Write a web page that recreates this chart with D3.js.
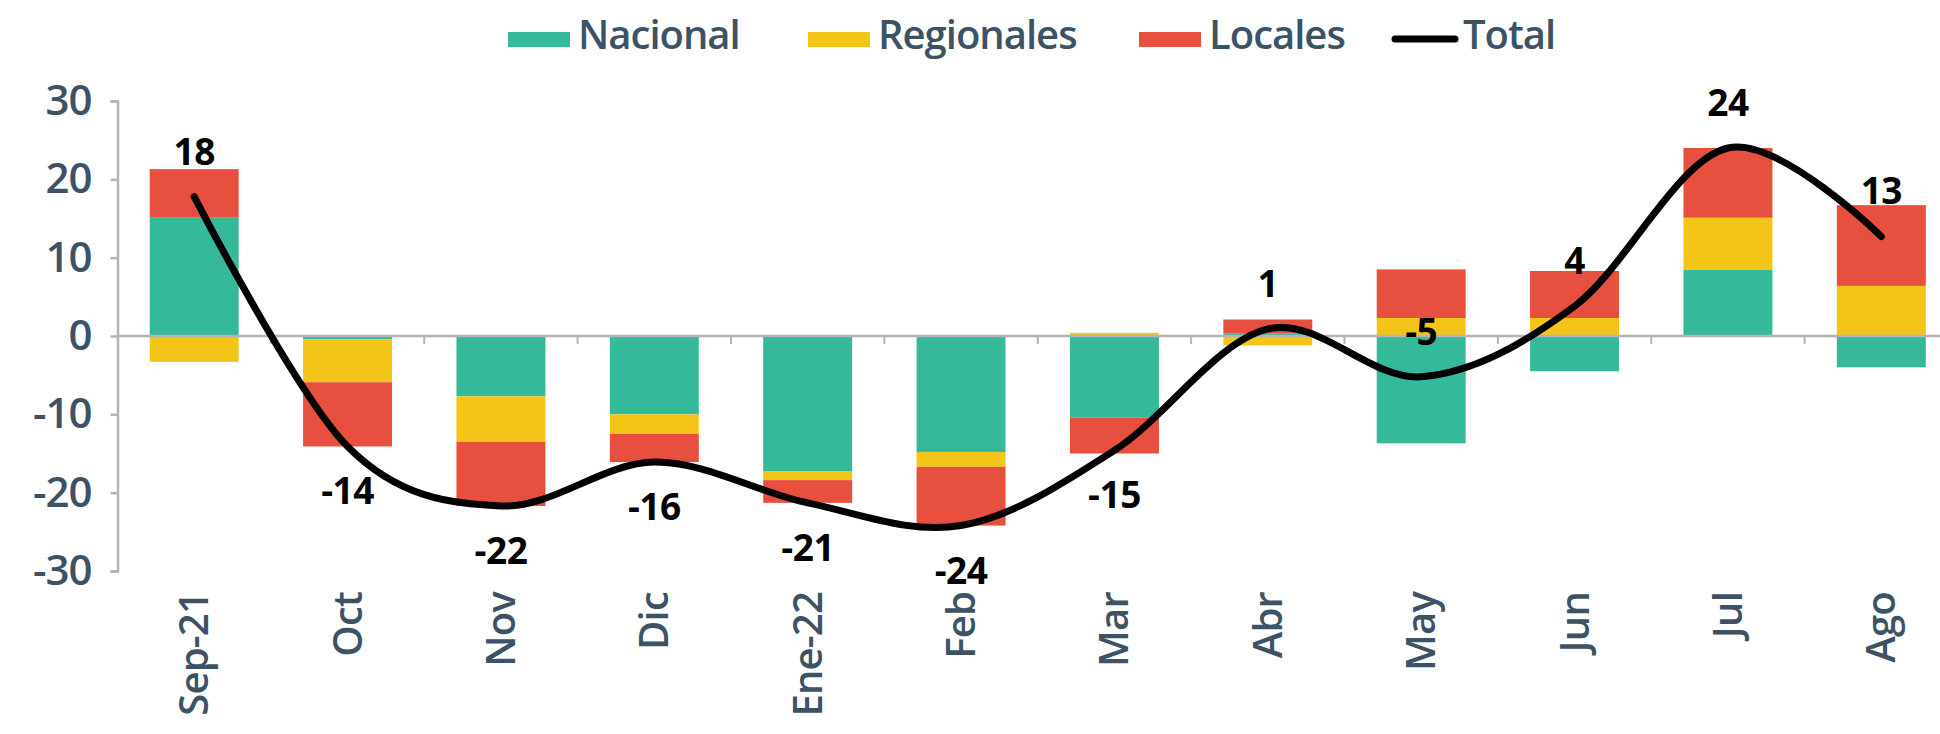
<!DOCTYPE html>
<html>
<head>
<meta charset="utf-8">
<script src="https://cdn.jsdelivr.net/npm/d3@7"></script>
<style>
  body { margin: 0; background: #fff; }
  svg { display: block; font-family: "Open Sans", sans-serif; }
</style>
</head>
<body>
<div id="chart"></div>
<script>
// Data
const months = ["Sep-21", "Oct", "Nov", "Dic", "Ene-22", "Feb", "Mar", "Abr", "May", "Jun", "Jul", "Ago"];
const nacional   = [15.1, -0.4, -7.7, -10.0, -17.3, -14.8, -10.4, 0.3, -13.7, -4.5, 8.5, -4.0];
const regionales = [-3.3, -5.5, -5.8, -2.5, -1.1, -1.9, 0.4, -1.2, 2.3, 2.3, 6.6, 6.4];
const locales    = [6.2, -8.2, -8.2, -3.6, -2.9, -7.5, -4.6, 1.8, 6.2, 6.0, 8.9, 10.3];
const total      = [17.8, -14.1, -21.7, -16.1, -21.3, -24.2, -14.6, 0.9, -5.2, 3.8, 24.0, 12.7];
const seriesNames = ["Nacional", "Regionales", "Locales"];
const yTicks = [-30, -20, -10, 0, 10, 20, 30];

const colors = {Nacional: "#36b99a", Regionales: "#f2c518", Locales: "#e74f3f"};
const textColor = "#3e5266";
const axisColor = "#b4b4b4";
// label side for the total values (Excel placed them by hand)
const labelAbove = [true, false, false, false, false, false, false, true, true, true, true, true];

const width = 1940, height = 734;
const svg = d3.select("#chart").append("svg")
  .attr("width", width)
  .attr("height", height);

const x = d3.scaleBand()
  .domain(months)
  .range([117.5, 1958])
  .paddingInner(0.42)
  .paddingOuter(0.21);
const y = d3.scaleLinear()
  .domain([-30, 30])
  .range([571, 101]);

const rows = months.map((m, i) => ({
  month: m, Nacional: nacional[i], Regionales: regionales[i], Locales: locales[i]
}));
const stacked = d3.stack()
  .keys(seriesNames)
  .offset(d3.stackOffsetDiverging)(rows);

// Bars
svg.append("g").selectAll("g")
  .data(stacked)
  .enter().append("g")
  .attr("fill", d => colors[d.key])
  .selectAll("rect")
  .data(d => d)
  .enter().append("rect")
  .attr("x", d => x(d.data.month))
  .attr("width", x.bandwidth())
  .attr("y", d => y(Math.max(d[0], d[1])))
  .attr("height", d => Math.abs(y(d[0]) - y(d[1])));

// Zero line with category ticks
const y0 = y(0);
svg.append("line")
  .attr("x1", x.range()[0]).attr("x2", width)
  .attr("y1", y0).attr("y2", y0)
  .attr("stroke", axisColor).attr("stroke-width", 2.5);
svg.append("g").selectAll("line")
  .data(months.slice(1))
  .enter().append("line")
  .attr("x1", d => x(d) - (x.step() - x.bandwidth()) / 2)
  .attr("x2", d => x(d) - (x.step() - x.bandwidth()) / 2)
  .attr("y1", y0).attr("y2", y0 + 8)
  .attr("stroke", axisColor).attr("stroke-width", 2);

// Y axis
const yAxis = svg.append("g")
  .attr("transform", `translate(${x.range()[0]},0)`)
  .call(d3.axisLeft(y).tickValues(yTicks).tickSize(7).tickSizeOuter(7).tickPadding(19)
    .tickFormat(d => String(d)));
yAxis.select(".domain").attr("stroke", axisColor).attr("stroke-width", 2.5);
yAxis.selectAll(".tick line").attr("stroke", axisColor).attr("stroke-width", 2.5);
yAxis.selectAll(".tick text")
  .attr("fill", textColor)
  .attr("font-size", "42px")
  .attr("font-weight", 600)
  .attr("letter-spacing", "-1px")
  .attr("font-family", "'Open Sans', sans-serif");

// X labels (rotated)
svg.append("g").selectAll("text")
  .data(months)
  .enter().append("text")
  .attr("transform", d => `translate(${x(d) + x.bandwidth() / 2},592) rotate(-90)`)
  .attr("text-anchor", "end")
  .attr("dy", "0.35em")
  .attr("font-size", "40px")
  .attr("font-weight", 600)
  .attr("letter-spacing", "-0.8px")
  .attr("fill", textColor)
  .text(d => d);

// Total line
const cx = (d, i) => x(months[i]) + x.bandwidth() / 2;
const line = d3.line()
  .x(cx)
  .y(d => y(d))
  .curve(d3.curveCatmullRom.alpha(0));
svg.append("path")
  .datum(total)
  .attr("d", line)
  .attr("fill", "none")
  .attr("stroke", "#000")
  .attr("stroke-width", 7)
  .attr("stroke-linecap", "round")
  .attr("stroke-linejoin", "round");

// Total labels
svg.append("g").selectAll("text")
  .data(total)
  .enter().append("text")
  .attr("x", cx)
  .attr("y", (d, i) => y(d) + (labelAbove[i] ? -45 : 45))
  .attr("dy", "0.35em")
  .attr("text-anchor", "middle")
  .attr("font-size", "37px")
  .attr("font-weight", "bold")
  .attr("letter-spacing", "-0.5px")
  .attr("fill", "#000")
  .text(d => String(Math.round(d)));

// Legend
const legendX = [508, 808, 1139, 1392];
const legendItems = [...seriesNames, "Total"];
const legend = svg.append("g");
legendItems.forEach((name, i) => {
  const g = legend.append("g").attr("transform", `translate(${legendX[i]},0)`);
  if (name === "Total") {
    g.append("line")
      .attr("x1", 3).attr("x2", 63)
      .attr("y1", 39).attr("y2", 39)
      .attr("stroke", "#000").attr("stroke-width", 7)
      .attr("stroke-linecap", "round");
  } else {
    g.append("rect")
      .attr("x", 0).attr("y", 32)
      .attr("width", 62).attr("height", 15)
      .attr("fill", colors[name]);
  }
  g.append("text")
    .attr("x", name === "Total" ? 71 : 70)
    .attr("y", 49)
    .attr("font-size", "40px")
    .attr("font-weight", 600)
    .attr("letter-spacing", "-1px")
    .attr("fill", textColor)
    .text(name);
});
</script>
</body>
</html>
